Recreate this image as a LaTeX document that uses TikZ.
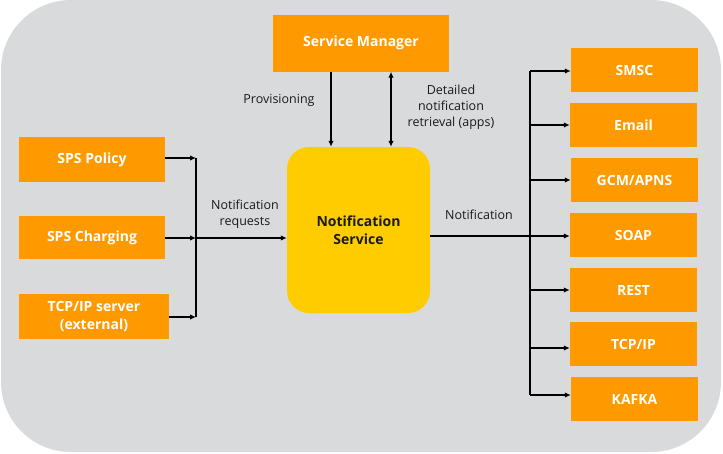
\documentclass[tikz,border=0pt]{standalone}
\usepackage{fontspec}
\setmainfont{Open Sans}
\usetikzlibrary{arrows.meta}
\definecolor{bgray}{HTML}{D9DADC}
\definecolor{orng}{HTML}{FF9900}
\definecolor{yllw}{HTML}{FFCC00}
\definecolor{txt}{HTML}{1A1A1A}
\tikzset{
  obox/.style={fill=orng, draw=none, inner sep=0pt, text=white, font=\fontsize{14}{16}\selectfont\bfseries, align=center},
  rbox/.style={obox, minimum width=127pt, minimum height=44pt},
  conn/.style={draw=black, line width=1.7pt},
  arr/.style={conn, -{Latex[length=6pt,width=5.5pt]}},
  darr/.style={conn, {Latex[length=6pt,width=5.5pt]}-{Latex[length=6pt,width=5.5pt]}},
  lbl/.style={text=txt, font=\fontsize{12.5}{16}\selectfont, align=center, inner sep=0pt}
}
\begin{document}
\begin{tikzpicture}[x=1pt, y=-1pt]
\useasboundingbox (0,0) rectangle (723,453);
\fill[bgray, rounded corners=70pt] (1,0) rectangle (721,452);

% top
\node[obox, minimum width=176pt, minimum height=57pt] (sm) at (361,43) {Service Manager};
% center
\node[fill=yllw, rounded corners=22pt, minimum width=143pt, minimum height=166pt, inner sep=0pt, text=txt, font=\fontsize{14}{18}\selectfont\bfseries, align=center] (ns) at (358.5,230) {Notification\\Service};
% left
\node[obox, minimum width=146pt, minimum height=45pt] (pol) at (92,159.5) {SPS Policy};
\node[obox, minimum width=146pt, minimum height=43pt] (chg) at (92,237.5) {SPS Charging};
\node[obox, minimum width=150pt, minimum height=45pt, font=\fontsize{14}{18}\selectfont\bfseries] (tcps) at (94,316.5) {TCP/IP server\\(external)};
% right
\node[rbox] (smsc) at (634.5,70) {SMSC};
\node[rbox] (email) at (633.5,125) {Email};
\node[rbox] (gcm) at (634.5,180) {GCM/APNS};
\node[rbox] (soap) at (633.5,235) {SOAP};
\node[rbox] (rest) at (633.5,290) {REST};
\node[rbox] (tcp) at (633.5,344) {TCP/IP};
\node[rbox] (kafka) at (634.5,399) {KAFKA};

% left bus
\coordinate (lbt) at (196,158);
\coordinate (lbm) at (196,238);
\coordinate (lbb) at (196,317);
\draw[conn] (lbt) -- (lbb);
\draw[arr] (pol.east |- lbt) -- (lbt);
\draw[arr] (chg.east |- lbm) -- (lbm);
\draw[arr] (tcps.east |- lbb) -- (lbb);
\draw[arr] (lbm) -- (ns.west |- lbm);

% service manager arrows
\draw[arr] ([xshift=-30pt]sm.south) -- ([xshift=-30pt]sm.south |- ns.north);
\draw[darr] ([xshift=30pt]sm.south) -- ([xshift=30pt]sm.south |- ns.north);

% right bus
\coordinate (rbt) at (530,71);
\coordinate (rbm) at (530,236);
\coordinate (rbb) at (530,395);
\draw[conn] (rbt) -- (rbb);
\draw[arr] (ns.east |- rbm) -- (soap.west |- rbm);
\draw[arr] (rbt) -- (smsc.west |- rbt);
\draw[arr] (email.west -| rbt) -- (email.west);
\draw[arr] (gcm.west -| rbt) -- (gcm.west);
\draw[arr] (rest.west -| rbt) -- (rest.west);
\coordinate (rtcp) at (530,348);
\draw[arr] (rtcp) -- (tcp.west |- rtcp);
\draw[arr] (rbb) -- (kafka.west |- rbb);

% labels
\node[lbl] (lprov) at (279,100) {Provisioning};
\node[lbl] (ldet) at (451,107) {Detailed\\notification\\retrieval (apps)};
\node[lbl] (lreq) at (245,214) {Notification\\requests};
\node[lbl] (lnot) at (479,215) {Notification};
\end{tikzpicture}
\end{document}
